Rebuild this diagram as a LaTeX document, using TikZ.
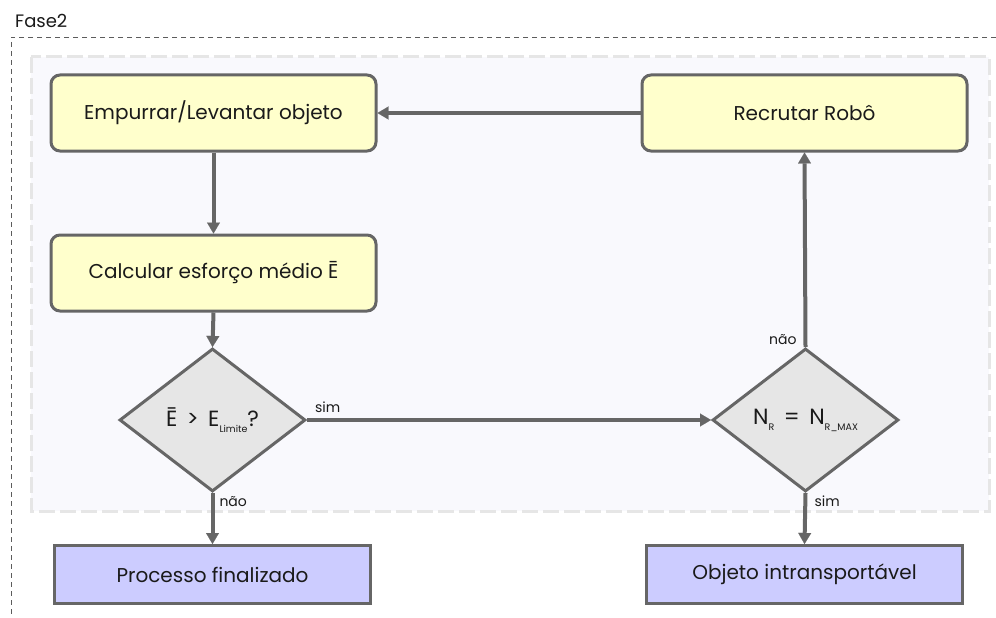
\documentclass[tikz,border=0pt]{standalone}
\usepackage{fontspec}
\setmainfont{Poppins}
\usetikzlibrary{shapes.geometric,arrows.meta}
\definecolor{linegray}{HTML}{666666}
\definecolor{framegray}{HTML}{E6E6E6}
\definecolor{panelfill}{HTML}{F9F9FD}
\definecolor{boxyellow}{HTML}{FFFFCC}
\definecolor{boxblue}{HTML}{CCCCFF}
\definecolor{diagray}{HTML}{E6E6E6}
\definecolor{textdark}{HTML}{1A1A1A}
\newcommand{\subtxt}[1]{\raisebox{-0.5ex}{\fontsize{9.5}{11}\selectfont #1}}

\begin{document}
\begin{tikzpicture}[x=1pt,y=-1pt,
  procbox/.style={draw=linegray,line width=3pt,rounded corners=9pt,fill=boxyellow,
    minimum width=325pt,minimum height=76pt,inner sep=0pt,text=textdark,
    font=\fontsize{20}{24}\selectfont},
  endbox/.style={draw=linegray,line width=3pt,fill=boxblue,
    minimum width=316pt,minimum height=58pt,inner sep=0pt,text=textdark,
    font=\fontsize{20}{24}\selectfont},
  decision/.style={diamond,draw=linegray,line width=3pt,fill=diagray,aspect=1.29,
    minimum width=186pt,minimum height=143pt,inner sep=0pt,text=textdark,
    font=\fontsize{22}{26}\selectfont},
  flow/.style={draw=linegray,line width=4pt,
    -{Triangle[width=13pt,length=11pt,line width=0.1pt]}},
  edgelabel/.style={font=\fontsize{14}{16}\selectfont,inner sep=0pt,text=textdark}
]
\path[use as bounding box] (0,0) rectangle (996,618);
% frames
\node[anchor=base west,inner sep=0pt,font=\fontsize{18}{21}\selectfont,text=textdark] (fase) at (15,28) {Fase2};
\draw[draw=linegray!90!black,line width=0.9pt,dash pattern=on 5pt off 4pt] (996,37) -- (11,37) -- (11,618);
\draw[draw=framegray,fill=panelfill,line width=3pt,dash pattern=on 16pt off 5pt] (31,57) rectangle (989,511);
% steps
\node[procbox] (empurrar) at (213.5,113) {Empurrar/Levantar objeto};
\node[procbox] (recrutar) at (804.5,113) {Recrutar Robô};
\node[procbox] (calcular) at (213.5,273) {Calcular esforço médio \=E};
\node[decision] (esforco) at (212.5,420) {\=E \,>\, E\subtxt{Limite}?};
\node[decision] (robos) at (805.5,420) {N\subtxt{R} \,=\, N\subtxt{R\_MAX}};
\node[endbox] (finalizado) at (212.5,574.5) {Processo finalizado};
\node[endbox] (intransp) at (804.5,574.5) {Objeto intransportável};
% connectors
\draw[flow] (recrutar.west) -- (empurrar.east);
\draw[flow] (empurrar.south) -- (calcular.north);
\draw[flow] (calcular.south) -- (esforco.north);
\draw[flow] (esforco.east) -- node[edgelabel,pos=0,anchor=south west,xshift=6pt,yshift=5pt] {sim} (robos.west);
\draw[flow] (esforco.south) -- node[edgelabel,pos=0,anchor=north west,xshift=5pt,yshift=-2pt] {não} (finalizado.north);
\draw[flow] (robos.north) -- node[edgelabel,pos=0,anchor=south east,xshift=-7pt,yshift=0pt] {não} (recrutar.south);
\draw[flow] (robos.south) -- node[edgelabel,pos=0,anchor=north west,xshift=7pt,yshift=-1pt] {sim} (intransp.north);
\end{tikzpicture}
\end{document}
